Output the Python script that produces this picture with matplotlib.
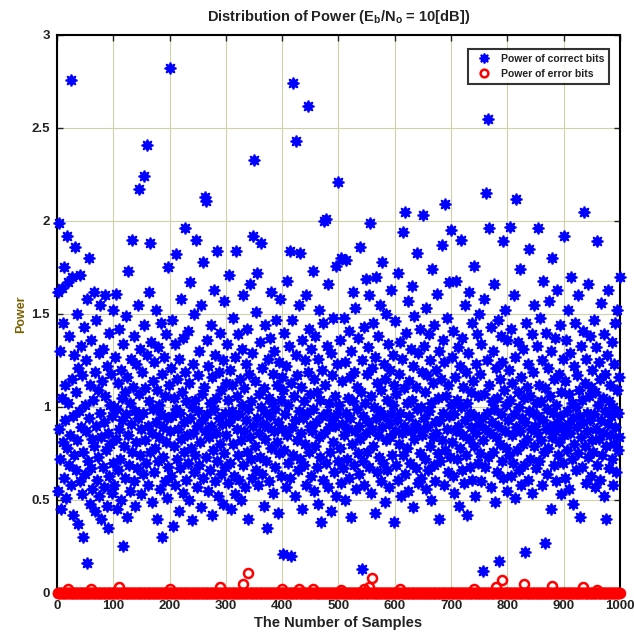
import numpy as np
import matplotlib
matplotlib.use("Agg")
import matplotlib.pyplot as plt

# ---- data ----
correct_power = [
0.55, 1.62, 0.88, 1.99, 0.72, 1.30, 0.45, 1.05, 1.64, 0.81, 1.45, 0.62, 1.75, 0.93, 1.12, 0.51, 1.92, 0.78, 1.67, 1.02, 0.69, 1.38, 0.85, 2.76, 0.58, 1.15, 1.70, 0.95, 0.42, 1.28, 0.74, 1.86, 1.08, 0.66, 1.50, 0.82, 1.21, 0.37, 0.98, 1.71, 0.60, 1.33, 0.89, 0.53, 1.17, 0.30, 0.76, 1.43, 1.01, 0.64,
0.87, 1.25, 0.16, 1.58, 0.71, 0.94, 1.80, 0.48, 1.12, 0.67, 1.36, 0.83, 0.56, 1.04, 1.62, 0.79, 0.44, 1.19, 0.90, 1.47, 0.61, 1.09, 0.73, 1.29, 0.52, 0.97, 1.55, 0.84, 0.40, 1.14, 0.68, 1.31, 0.92, 0.57, 1.06, 1.60, 0.77, 0.47, 1.22, 0.35, 0.86, 1.40, 0.63, 1.01, 0.80, 1.18, 0.54, 0.95, 1.52, 0.70,
1.00, 0.58, 1.27, 0.83, 1.61, 0.45, 0.99, 1.13, 0.66, 1.42, 0.88, 0.72, 1.20, 0.50, 1.05, 0.93, 0.25, 1.34, 0.79, 1.08, 0.62, 1.49, 0.96, 0.41, 1.16, 0.85, 1.73, 0.69, 1.02, 0.55, 1.26, 0.91, 1.90, 0.76, 1.11, 0.60, 1.38, 0.98, 0.47, 1.23, 0.81, 0.67, 1.55, 0.94, 2.17, 1.07, 0.74, 1.31, 0.88, 0.53,
1.19, 0.97, 0.64, 1.44, 2.24, 0.82, 1.10, 0.70, 1.28, 2.41, 0.90, 0.58, 1.62, 1.03, 1.88, 0.76, 1.35, 0.86, 0.49, 1.14, 0.99, 0.65, 1.24, 0.78, 1.52, 0.92, 0.40, 1.09, 0.71, 1.32, 0.84, 1.01, 0.56, 1.45, 0.96, 0.30, 1.18, 0.73, 0.89, 1.27, 0.60, 1.06, 0.81, 1.39, 0.51, 0.94, 1.75, 0.68, 1.12, 2.82,
0.87, 1.21, 0.63, 1.47, 0.95, 0.36, 1.05, 0.79, 1.34, 0.58, 0.99, 1.82, 0.72, 1.15, 0.88, 0.44, 1.26, 0.97, 0.67, 1.58, 0.83, 1.08, 0.54, 1.37, 0.92, 0.76, 1.19, 1.96, 0.61, 1.03, 0.85, 1.41, 0.70, 0.50, 1.13, 0.94, 1.67, 0.78, 1.00, 0.39, 1.23, 0.86, 0.65, 1.50, 1.04, 0.74, 1.90, 0.90, 0.57, 1.17,
0.98, 0.69, 1.30, 0.81, 1.55, 0.46, 1.07, 0.93, 1.78, 0.62, 1.11, 0.87, 2.13, 2.11, 0.73, 1.36, 0.96, 0.55, 1.22, 0.84, 1.02, 0.66, 1.44, 0.90, 0.42, 1.16, 0.77, 1.63, 0.99, 0.60, 1.28, 0.86, 1.05, 0.71, 1.84, 0.52, 0.94, 1.19, 0.80, 1.40, 0.64, 1.09, 0.91, 0.48, 1.25, 0.75, 1.57, 0.97, 0.68, 1.13,
0.85, 1.34, 0.59, 1.04, 0.92, 1.71, 0.70, 1.20, 0.45, 0.98, 1.12, 0.80, 1.48, 0.63, 0.95, 1.27, 0.53, 1.84, 0.88, 1.06, 0.74, 1.39, 0.96, 0.61, 1.15, 0.82, 0.50, 1.31, 1.01, 0.69, 1.60, 0.87, 1.10, 0.57, 1.23, 0.93, 0.76, 1.42, 0.99, 0.40, 1.18, 0.84, 1.66, 0.72, 1.03, 0.62, 1.29, 0.90, 1.92, 2.33,
0.79, 1.14, 0.66, 1.51, 0.94, 1.72, 0.58, 1.07, 0.86, 1.35, 0.73, 1.00, 1.88, 0.64, 1.21, 0.91, 0.47, 1.10, 0.83, 1.44, 0.97, 0.71, 0.35, 1.26, 0.89, 1.05, 0.60, 1.37, 0.95, 0.78, 1.62, 1.02, 0.54, 1.18, 0.87, 1.30, 0.68, 0.99, 1.47, 0.81, 1.12, 0.43, 0.92, 1.24, 0.75, 1.58, 1.04, 0.63, 1.16, 0.88,
0.21, 1.09, 0.77, 1.40, 0.96, 0.57, 1.22, 0.85, 1.68, 0.70, 1.01, 1.33, 0.62, 1.84, 0.20, 1.13, 0.89, 1.47, 0.74, 2.74, 1.06, 0.93, 0.52, 1.28, 2.43, 0.82, 1.17, 0.66, 1.55, 0.98, 1.83, 0.72, 1.11, 0.86, 0.45, 1.36, 0.94, 1.03, 0.69, 1.25, 0.80, 1.60, 0.58, 0.97, 2.62, 1.19, 0.76, 1.42, 0.90, 1.07,
0.63, 1.31, 0.87, 1.73, 0.99, 0.55, 1.15, 0.79, 1.38, 0.92, 0.68, 1.08, 0.48, 1.26, 0.84, 1.52, 0.73, 1.04, 0.38, 1.20, 0.95, 0.61, 1.45, 2.00, 0.86, 1.12, 2.01, 0.70, 0.97, 1.33, 0.57, 1.66, 0.89, 1.02, 0.76, 1.29, 0.44, 0.93, 1.17, 0.81, 1.48, 0.65, 1.06, 0.90, 1.76, 0.52, 1.23, 0.96, 0.71, 2.21,
1.01, 0.78, 1.36, 0.59, 1.80, 0.91, 1.14, 0.67, 1.48, 0.85, 0.50, 1.24, 0.97, 1.79, 0.72, 1.05, 0.88, 1.41, 0.62, 1.16, 0.94, 0.41, 1.30, 0.80, 1.62, 1.03, 0.69, 1.19, 0.87, 1.53, 0.56, 0.99, 1.11, 0.75, 1.37, 0.90, 0.64, 1.86, 0.83, 1.08, 0.13, 1.25, 0.95, 0.71, 1.43, 0.58, 1.02, 1.69, 0.86, 1.18,
0.76, 1.32, 0.92, 1.60, 0.68, 1.99, 1.06, 0.54, 1.21, 0.88, 1.45, 0.79, 1.00, 0.43, 1.27, 0.94, 1.70, 0.65, 1.13, 0.85, 1.38, 0.73, 0.98, 1.55, 0.60, 1.09, 0.89, 1.78, 0.70, 1.23, 0.95, 0.49, 1.15, 0.82, 1.50, 1.04, 0.66, 1.34, 0.91, 0.57, 1.20, 0.84, 1.63, 0.96, 0.74, 1.28, 1.01, 0.38, 1.12, 0.87,
1.46, 0.69, 1.07, 0.93, 1.72, 0.61, 1.18, 0.80, 1.35, 0.97, 0.52, 1.26, 0.86, 1.94, 0.74, 1.10, 0.90, 2.05, 0.64, 1.40, 1.02, 0.78, 1.57, 0.55, 1.14, 0.95, 0.70, 1.31, 0.87, 1.65, 1.04, 0.46, 1.22, 0.83, 1.49, 0.91, 0.67, 1.11, 0.99, 1.83, 0.59, 1.29, 0.88, 0.75, 1.42, 1.00, 0.62, 1.19, 0.85, 2.03,
0.94, 1.33, 0.72, 1.08, 0.56, 1.53, 0.89, 1.17, 0.66, 1.39, 0.98, 0.79, 1.25, 0.50, 1.02, 1.74, 0.84, 1.13, 0.69, 1.44, 0.92, 0.60, 1.20, 0.86, 1.61, 0.75, 1.05, 0.40, 1.30, 0.93, 0.71, 1.15, 1.87, 0.82, 1.36, 0.97, 0.58, 1.24, 2.09, 0.77, 1.06, 0.88, 1.48, 0.65, 1.12, 0.95, 1.67, 0.73, 1.01, 1.95,
0.81, 1.27, 0.63, 1.41, 0.96, 0.54, 1.16, 0.87, 1.68, 0.72, 1.04, 1.32, 0.90, 0.47, 1.22, 0.78, 1.90, 1.00, 0.66, 1.37, 0.85, 1.11, 0.59, 1.55, 0.93, 0.74, 1.19, 1.02, 0.42, 1.29, 0.83, 1.62, 0.97, 0.68, 1.08, 0.89, 1.45, 0.61, 1.14, 0.79, 1.76, 0.95, 0.52, 1.23, 0.86, 1.39, 0.70, 1.06, 0.91, 1.50,
0.75, 1.18, 0.60, 1.34, 0.94, 0.82, 0.12, 1.07, 1.58, 0.88, 0.68, 2.15, 1.25, 0.97, 2.55, 0.73, 1.12, 1.96, 0.86, 1.43, 0.57, 1.03, 0.92, 1.30, 0.76, 1.66, 0.99, 0.49, 1.21, 0.84, 1.05, 0.65, 1.47, 0.90, 0.17, 1.15, 0.80, 1.38, 0.96, 0.71, 1.24, 1.89, 0.62, 1.09, 0.87, 1.52, 0.78, 1.01, 0.55, 1.36,
0.93, 1.20, 0.74, 1.97, 1.04, 0.63, 1.42, 0.85, 1.13, 0.70, 1.60, 0.96, 0.51, 1.27, 0.89, 2.12, 0.77, 1.08, 1.35, 0.66, 1.00, 0.87, 1.74, 0.58, 1.16, 0.94, 0.80, 1.31, 0.69, 1.05, 0.92, 0.22, 1.45, 0.83, 1.11, 0.61, 1.23, 0.98, 1.85, 0.72, 1.06, 0.88, 1.39, 0.54, 0.97, 1.19, 0.79, 1.55, 0.90, 1.02,
0.67, 1.33, 0.86, 1.96, 0.95, 1.12, 0.71, 1.48, 0.82, 1.03, 0.58, 1.25, 0.93, 1.68, 0.76, 0.27, 1.10, 0.88, 1.40, 0.64, 0.99, 1.21, 0.78, 1.57, 0.90, 1.06, 0.45, 1.30, 0.84, 1.80, 0.97, 0.69, 1.15, 0.87, 1.37, 0.60, 1.01, 0.92, 1.63, 0.74, 1.18, 0.81, 1.44, 0.95, 0.53, 1.08, 0.89, 1.26, 0.70, 1.92,
0.85, 1.14, 0.62, 1.36, 0.98, 0.77, 1.52, 0.91, 1.07, 0.56, 1.29, 0.86, 1.70, 0.72, 1.02, 0.94, 0.48, 1.22, 0.80, 1.45, 1.00, 0.66, 1.17, 0.89, 1.60, 0.75, 1.09, 0.95, 0.41, 1.33, 0.84, 1.04, 0.68, 1.41, 0.92, 2.05, 0.79, 1.13, 0.59, 1.26, 0.97, 0.87, 1.66, 0.73, 1.06, 0.93, 1.38, 0.63, 1.11, 0.82,
1.20, 0.76, 1.47, 0.96, 0.57, 1.08, 0.88, 1.32, 0.69, 1.89, 1.01, 0.83, 1.24, 0.61, 1.15, 0.93, 1.56, 0.74, 1.05, 0.86, 1.39, 0.52, 0.98, 1.18, 0.79, 0.40, 1.28, 0.91, 1.63, 0.67, 1.03, 0.85, 1.12, 0.95, 0.72, 1.35, 0.58, 1.00, 1.23, 0.80, 1.45, 0.89, 0.65, 1.09, 1.52, 0.77, 0.97, 1.16, 0.84, 1.70,
]
n_samples = 1000
# error-bit power: zero everywhere except these samples
error_idx = [20, 60, 110, 200, 290, 330, 340, 400, 430, 455, 505, 545, 555, 560, 610, 740, 780, 790, 830, 880, 935, 960]
error_val = [0.02, 0.02, 0.03, 0.02, 0.03, 0.05, 0.11, 0.02, 0.02, 0.02, 0.015, 0.02, 0.03, 0.08, 0.02, 0.02, 0.03, 0.07, 0.05, 0.04, 0.03, 0.015]

samples = np.arange(1, n_samples + 1)
error_power = np.zeros(n_samples)
for i, v in zip(error_idx, error_val):
    error_power[i - 1] = v

plt.rcParams['font.family'] = ['Liberation Sans', 'DejaVu Sans']
fig = plt.figure(figsize=(6.34, 6.41), dpi=100)
ax = fig.add_axes([0.0899, 0.0749, 0.888, 0.8705])

ax.plot(samples, correct_power, linestyle='none', marker=(8, 1, 0), markersize=8.5,
        color='#0000ff', markeredgecolor='#0000ff', markeredgewidth=1.2,
        label='Power of correct bits', clip_on=False, zorder=3)
ax.plot(samples, error_power, linestyle='none', marker='o', markersize=6.5,
        markerfacecolor='none', markeredgecolor='#ff0000', markeredgewidth=1.8,
        label='Power of error bits', clip_on=False, zorder=4)

ax.set_xlim(0, 1000)
ax.set_ylim(0, 3)
ax.set_xticks(np.arange(0, 1001, 100))
ax.set_yticks([0, 0.5, 1, 1.5, 2, 2.5, 3])
ax.set_yticklabels(['0', '0.5', '1', '1.5', '2', '2.5', '3'])
ax.grid(True, color='#d0d0a8', linestyle='-', linewidth=0.8)
ax.set_axisbelow(True)
ax.tick_params(direction='in', top=True, right=True, length=4, width=1,
               labelsize=9.5, colors='#222222', pad=5)
for lab in ax.get_xticklabels() + ax.get_yticklabels():
    lab.set_fontweight('bold')
for s in ax.spines.values():
    s.set_linewidth(1.5)
    s.set_color('black')

ax.set_title(r'Distribution of Power (E$_\mathregular{b}$/N$_\mathregular{o}$ = 10[dB])',
             fontsize=10.5, fontweight='bold', pad=10, color='#222222')
ax.set_xlabel('The Number of Samples', fontsize=10.5, fontweight='bold', labelpad=3,
              color='#222222')
ax.set_ylabel('Power', fontsize=9, fontweight='bold', color='#7a6000', labelpad=3)

leg = ax.legend(loc='upper right', fontsize=7.5, frameon=True, fancybox=False,
                borderpad=0.5, handletextpad=0.6, bbox_to_anchor=(0.99, 0.985),
                markerscale=0.85, labelspacing=0.5)
leg.get_frame().set_edgecolor('black')
leg.get_frame().set_linewidth(1.5)
leg.set_zorder(10)
for t in leg.get_texts():
    t.set_fontweight('bold')
    t.set_color('#222222')

fig.savefig('out.png', dpi=100)
